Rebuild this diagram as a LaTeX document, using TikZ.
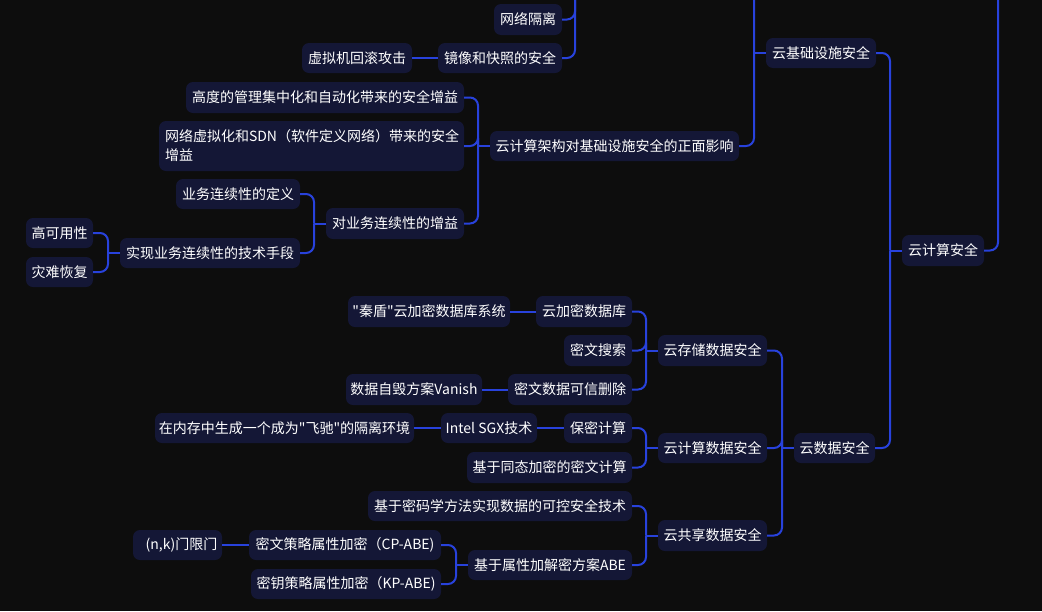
\documentclass[tikz,border=0pt]{standalone}
\usepackage{fontspec}
\newfontfamily\cjk{Noto Sans CJK SC}
\definecolor{bgc}{RGB}{13,13,13}
\definecolor{boxc}{RGB}{20,23,54}
\definecolor{linkc}{RGB}{40,66,220}
\tikzset{
  mmbox/.style={fill=boxc, rounded corners=7pt, inner xsep=3pt, inner ysep=0pt,
    minimum height=30pt, text=white, font=\cjk\fontsize{14}{19}\selectfont},
  link/.style={draw=linkc, line width=2pt, rounded corners=8pt},
  flat/.style={draw=linkc, line width=2pt}
}
\newcommand{\mmlink}[3]{%
  \draw[link] (#1.east) -- (#1.east -| #3) -- (#3 |- #2.west);
  \draw[flat] (#3 |- #2.west) -- (#2.west);}
\begin{document}
\begin{tikzpicture}[x=1pt,y=-1pt]
\fill[bgc] (0,0) rectangle (1042,611);
\useasboundingbox (0,0) rectangle (1042,611);
\clip (0,0) rectangle (1042,611);
% nodes
\node[mmbox, minimum width=68pt, minimum height=31pt] (wlgl) at (528,19.5) {网络隔离};
\node[mmbox, minimum width=124pt] (jx) at (500,58) {镜像和快照的安全};
\node[mmbox, minimum width=110pt] (xnj) at (357,58) {虚拟机回滚攻击};
\node[mmbox, minimum width=278pt, minimum height=31pt] (gd) at (325,97.5) {高度的管理集中化和自动化带来的安全增益};
\node[mmbox, minimum width=305pt, minimum height=50pt, text width=293pt, align=left, inner xsep=6pt] (wlxn) at (311.5,146) {网络虚拟化和SDN（软件定义网络）带来的安全\\增益};
\node[mmbox, minimum width=249pt] (yjs) at (614.5,146) {云计算架构对基础设施安全的正面影响};
\node[mmbox, minimum width=138pt, minimum height=31pt] (dyw) at (395,223.5) {对业务连续性的增益};
\node[mmbox, minimum width=124pt] (ywdy) at (238,194) {业务连续性的定义};
\node[mmbox, minimum width=180pt] (sxyw) at (210,253) {实现业务连续性的技术手段};
\node[mmbox, minimum width=67pt] (gky) at (59.5,233) {高可用性};
\node[mmbox, minimum width=67pt] (zn) at (59.5,272) {灾难恢复};
\node[mmbox, minimum width=110pt] (yjc) at (821,53) {云基础设施安全};
\node[mmbox, minimum width=82pt, minimum height=31pt] (yjsaq) at (943,250.5) {云计算安全};
\node[mmbox, minimum width=81pt] (ysj) at (834.5,448) {云数据安全};
\node[mmbox, minimum width=109pt, minimum height=31pt] (ycc) at (712.5,350.5) {云存储数据安全};
\node[mmbox, minimum width=109pt] (yjssj) at (712.5,448) {云计算数据安全};
\node[mmbox, minimum width=109pt, minimum height=31pt] (ygx) at (712.5,535.5) {云共享数据安全};
\node[mmbox, minimum width=96pt, minimum height=31pt] (yjm) at (584,311.5) {云加密数据库};
\node[mmbox, minimum width=162pt, minimum height=31pt] (qd) at (429,311.5) {"秦盾"云加密数据库系统};
\node[mmbox, minimum width=68pt, minimum height=31pt] (mwss) at (598,350.5) {密文搜索};
\node[mmbox, minimum width=124pt, minimum height=31pt] (mwsj) at (570,389.5) {密文数据可信删除};
\node[mmbox, minimum width=136pt, minimum height=31pt] (vanish) at (414,389.5) {数据自毁方案Vanish};
\node[mmbox, minimum width=68pt] (bmjs) at (598,428) {保密计算};
\node[mmbox, minimum width=96pt] (sgx) at (489,428) {Intel SGX技术};
\node[mmbox, minimum width=259pt] (nc) at (284.5,428) {在内存中生成一个成为"飞驰"的隔离环境};
\node[mmbox, minimum width=165pt, minimum height=31pt] (tt) at (549.5,467.5) {基于同态加密的密文计算};
\node[mmbox, minimum width=264pt] (mmx) at (500,506) {基于密码学方法实现数据的可控安全技术};
\node[mmbox, minimum width=164pt] (abe) at (550,565) {基于属性加解密方案ABE};
\node[mmbox, minimum width=192pt] (cp) at (345,545) {密文策略属性加密（CP-ABE)};
\node[mmbox, minimum width=190pt] (kp) at (346,584) {密钥策略属性加密（KP-ABE)};
\node[mmbox, minimum width=89pt] (nk) at (177.5,545) {\hspace{8pt}(n,k)门限门};
% bracket coordinates
\coordinate (t575) at (575,-10);
\coordinate (t754) at (754,-10);
\coordinate (t998) at (998,-10);
\coordinate (b478) at (478,0);
\coordinate (b314) at (314,0);
\coordinate (b108) at (108,0);
\coordinate (b890) at (890,0);
\coordinate (b782) at (782,0);
\coordinate (b646) at (646,0);
\coordinate (b456) at (456,0);
% connectors
\draw[link] (wlgl.east) -- (wlgl.east -| t575) -- (t575);
\draw[link] (jx.east) -- (jx.east -| t575) -- (t575);
\draw[flat] (xnj.east) -- (jx.west);
\draw[link] (yjs.east) -- (yjs.east -| t754) -- (t754);
\draw[flat] (t754 |- yjc.west) -- (yjc.west);
\mmlink{gd}{yjs}{b478}
\mmlink{wlxn}{yjs}{b478}
\mmlink{dyw}{yjs}{b478}
\mmlink{ywdy}{dyw}{b314}
\mmlink{sxyw}{dyw}{b314}
\mmlink{gky}{sxyw}{b108}
\mmlink{zn}{sxyw}{b108}
\mmlink{yjc}{yjsaq}{b890}
\mmlink{ysj}{yjsaq}{b890}
\draw[link] (yjsaq.east) -- (yjsaq.east -| t998) -- (t998);
\mmlink{ycc}{ysj}{b782}
\mmlink{yjssj}{ysj}{b782}
\mmlink{ygx}{ysj}{b782}
\mmlink{yjm}{ycc}{b646}
\mmlink{mwss}{ycc}{b646}
\mmlink{mwsj}{ycc}{b646}
\draw[flat] (qd.east) -- (yjm.west);
\draw[flat] (vanish.east) -- (mwsj.west);
\mmlink{bmjs}{yjssj}{b646}
\mmlink{tt}{yjssj}{b646}
\draw[flat] (sgx.east) -- (bmjs.west);
\draw[flat] (nc.east) -- (sgx.west);
\mmlink{mmx}{ygx}{b646}
\mmlink{abe}{ygx}{b646}
\mmlink{cp}{abe}{b456}
\mmlink{kp}{abe}{b456}
\draw[flat] (nk.east) -- (cp.west);
\end{tikzpicture}
\end{document}
